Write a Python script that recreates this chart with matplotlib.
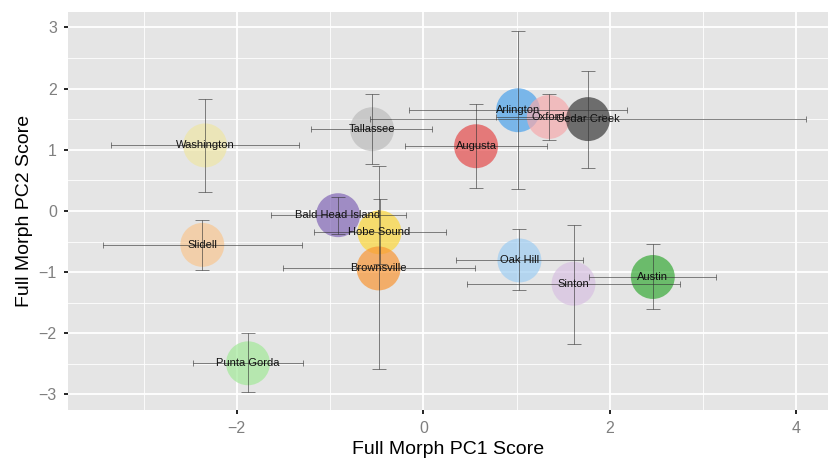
import matplotlib
matplotlib.use("Agg")
import matplotlib.pyplot as plt
from matplotlib.ticker import MultipleLocator

plt.rcParams["font.family"] = ["Liberation Sans", "DejaVu Sans"]

sites = ["Washington", "Tallassee", "Arlington", "Oxford", "Cedar Creek", "Augusta",
         "Bald Head Island", "Hobe Sound", "Brownsville", "Slidell", "Punta Gorda",
         "Oak Hill", "Sinton", "Austin"]
pc1 = [-2.34, -0.55, 1.015, 1.345, 1.765, 0.565, -0.915, -0.47, -0.48, -2.37, -1.88, 1.03, 1.61, 2.46]
pc2 = [1.07, 1.335, 1.645, 1.535, 1.50, 1.057, -0.07, -0.35, -0.94, -0.555, -2.49, -0.81, -1.19, -1.08]
pc1_lo = [-3.35, -1.205, -0.15, 0.78, -0.575, -0.20, -1.63, -1.17, -1.50, -3.43, -2.47, 0.35, 0.47, 1.78]
pc1_hi = [-1.33, 0.09, 2.18, 1.91, 4.10, 1.33, -0.19, 0.24, 0.55, -1.30, -1.29, 1.71, 2.75, 3.14]
pc2_lo = [0.31, 0.76, 0.355, 1.165, 0.70, 0.38, -0.38, -0.86, -2.58, -0.97, -2.96, -1.29, -2.18, -1.61]
pc2_hi = [1.83, 1.91, 2.94, 1.905, 2.29, 1.74, 0.235, 0.19, 0.73, -0.15, -2.0, -0.30, -0.23, -0.545]
colors = ["#eee6a5", "#bcbcbc", "#4ca2ec", "#f5aaad", "#3b3b3b", "#e44c4c",
          "#8266b6", "#fcd83b", "#f89635", "#f8c791", "#a2e999",
          "#9fcdf2", "#d8c1e1", "#38aa38"]

fig = plt.figure(figsize=(8.29, 4.62), dpi=100)
ax = fig.add_axes([0.082, 0.113, 0.917, 0.861])
ax.set_facecolor("#e5e5e5")

ax.scatter(pc1, pc2, s=1000, c=colors, alpha=0.7, linewidths=0, zorder=3)

for i in range(len(sites)):
    ax.errorbar(pc1[i], pc2[i],
                yerr=[[pc2[i] - pc2_lo[i]], [pc2_hi[i] - pc2[i]]],
                fmt="none", ecolor="#333333", elinewidth=0.7, capsize=5,
                capthick=0.7, alpha=0.6, zorder=4)
    ax.errorbar(pc1[i], pc2[i],
                xerr=[[pc1[i] - pc1_lo[i]], [pc1_hi[i] - pc1[i]]],
                fmt="none", ecolor="#333333", elinewidth=0.7, capsize=2.5,
                capthick=0.7, alpha=0.6, zorder=4)
    ax.text(pc1[i], pc2[i], sites[i], ha="center", va="center",
            fontsize=8, color="#111111", zorder=5)

ax.set_xlim(-3.81, 4.34)
ax.set_ylim(-3.25, 3.25)
ax.xaxis.set_major_locator(MultipleLocator(2))
ax.xaxis.set_minor_locator(MultipleLocator(1))
ax.yaxis.set_major_locator(MultipleLocator(1))
ax.yaxis.set_minor_locator(MultipleLocator(0.5))
ax.grid(which="major", color="white", linewidth=1.3, zorder=0)
ax.grid(which="minor", color="white", linewidth=0.6, zorder=0)
ax.set_axisbelow(True)
for sp in ax.spines.values():
    sp.set_visible(False)
ax.tick_params(which="major", length=3, width=1.2, color="black",
               labelsize=11.5, labelcolor="#7f7f7f", pad=5)
ax.tick_params(which="minor", length=0)
ax.set_xticklabels([f"{int(t)}".replace("-", "\u2212") for t in ax.get_xticks()])
ax.set_yticklabels([f"{int(t)}".replace("-", "\u2212") for t in ax.get_yticks()])

ax.set_xlabel("Full Morph PC1 Score", fontsize=14, labelpad=4)
ax.set_ylabel("Full Morph PC2 Score", fontsize=14, labelpad=4)

fig.savefig("out.png", dpi=100)
